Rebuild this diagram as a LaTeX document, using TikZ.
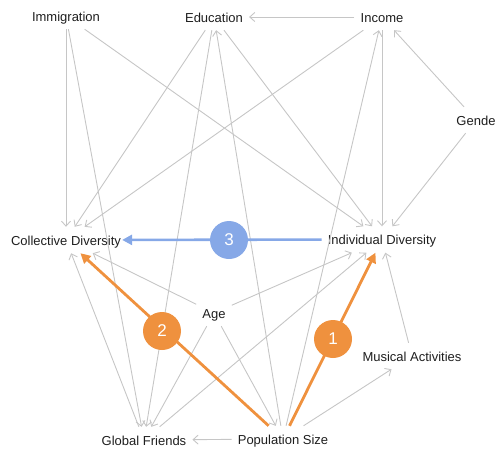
\documentclass[tikz,border=0pt]{standalone}
\usepackage{fontspec}
\setmainfont{Liberation Sans}
\usetikzlibrary{arrows.meta}
\definecolor{edgegrey}{RGB}{198,198,198}
\definecolor{pathorange}{RGB}{239,145,62}
\definecolor{pathblue}{RGB}{134,168,231}
\definecolor{labelink}{RGB}{30,30,30}
\begin{document}
\begin{tikzpicture}[x=1pt,y=-1pt,
  var/.style={inner xsep=6pt, inner ysep=0pt, minimum height=26pt,
    text height=10pt, text depth=0pt,
    font=\fontsize{13}{15}\selectfont, text=labelink},
  link/.style={draw=edgegrey, line width=0.9pt,
    -{Straight Barb[length=5pt,width=9pt,line width=0.9pt]}},
  orangepath/.style={draw=pathorange, line width=2.8pt,
    -{Triangle[length=10pt,width=10pt]}},
  bluepath/.style={draw=pathblue, line width=2.6pt,
    -{Triangle[length=10pt,width=10pt]}},
  badge/.style={circle, minimum size=38pt, inner sep=0pt, text=white,
    font=\fontsize{17}{19}\selectfont}
]
\useasboundingbox (0,0) rectangle (496,450);

% variables
\node[var] (imm) at (66,16)    {Immigration};
\node[var] (edu) at (214,17)   {Education};
\node[var] (inc) at (382,17)   {Income};
\node[var] (gen) at (476,120)  {Gende};
\node[var] (col) at (66,240)   {Collective Diversity};
\node[var] (ind) at (382,239.5) {Individual Diversity};
\node[var] (age) at (214,313)  {Age};
\node[var] (mus) at (412,356)  {Musical Activities};
\node[var] (glo) at (144,440)  {Global Friends};
\node[var] (pop) at (283,439)  {Population Size};

% causal links
\draw[link] (inc) -- (edu);
\draw[link] (gen) -- (inc);
\draw[link] (gen) -- (ind);
\draw[link] (inc) -- (ind);
\draw[link] (inc) -- (col);
\draw[link] (imm) -- (col);
\draw[link] (imm) -- (glo);
\draw[link] (imm) -- (ind);
\draw[link] (edu) -- (col);
\draw[link] (edu) -- (ind);
\draw[link] (edu) -- (glo);
\draw[link] (pop) -- (edu);
\draw[link] (pop) -- (inc);
\draw[link] (age) -- (col);
\draw[link] (age) -- (ind);
\draw[link] (age) -- (glo);
\draw[link] (age) -- (pop);
\draw[link] (glo) -- (col);
\draw[link] (glo) -- (ind);
\draw[link] (pop) -- (glo);
\draw[link] (pop) -- (mus);
\draw[link] (mus) -- (ind);

% highlighted paths
\draw[orangepath] (pop) -- (ind);
\draw[orangepath] (pop) -- (col);
\draw[bluepath, shorten >=-5pt] (ind) -- (col);

% numbered markers
\node[badge, fill=pathorange] (m1) at (333,339) {1};
\node[badge, fill=pathorange] (m2) at (162,331) {2};
\node[badge, fill=pathblue]   (m3) at (229,240) {3};
\end{tikzpicture}
\end{document}
